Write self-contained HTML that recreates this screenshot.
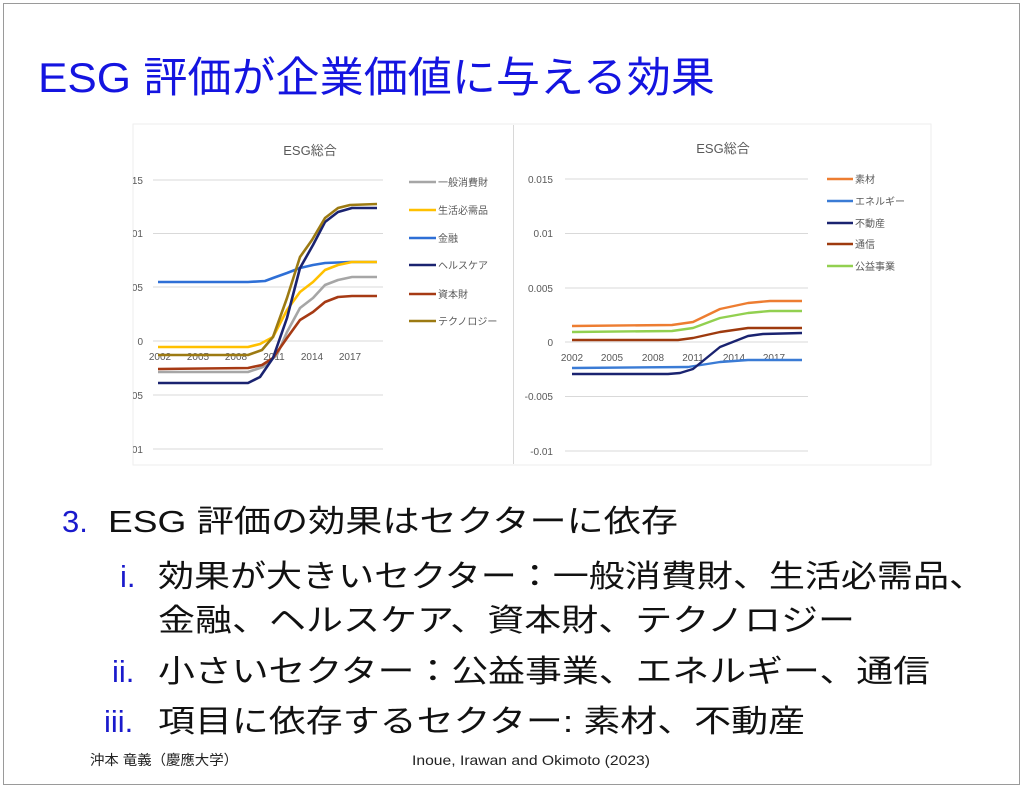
<!DOCTYPE html>
<html><head><meta charset="utf-8"><style>
html,body{margin:0;padding:0;background:#fff;}
svg{display:block;font-family:"Liberation Sans","Noto Sans CJK JP",sans-serif;}
</style></head><body>
<svg width="1024" height="789" viewBox="0 0 1024 789" xmlns="http://www.w3.org/2000/svg">
<defs><clipPath id="lc"><rect x="133" y="120" width="400" height="350"/></clipPath></defs>
<rect x="0" y="0" width="1024" height="789" fill="#fff"/>
<rect x="3.5" y="3.5" width="1016" height="781" fill="none" stroke="#9a9a9a" stroke-width="1"/>
<text x="38" y="92" font-size="42" fill="#1414e0" textLength="677" lengthAdjust="spacingAndGlyphs">ESG 評価が企業価値に与える効果</text>

<!-- left chart -->
<line x1="513.5" y1="125" x2="513.5" y2="464" stroke="#d8d8d8"/>
<rect x="133" y="124" width="798" height="341" fill="none" stroke="#eeeeee"/>
<text x="310" y="155" font-size="13" fill="#595959" text-anchor="middle">ESG総合</text>
<g stroke="#d9d9d9" stroke-width="1">
<line x1="153" y1="180" x2="383" y2="180"/><line x1="153" y1="233.5" x2="383" y2="233.5"/>
<line x1="153" y1="287" x2="383" y2="287"/><line x1="153" y1="341" x2="383" y2="341"/>
<line x1="153" y1="395" x2="383" y2="395"/><line x1="153" y1="449" x2="383" y2="449"/>
</g>
<g font-size="10" fill="#595959" text-anchor="end" clip-path="url(#lc)">
<text x="143" y="184">0.015</text><text x="143" y="237">0.01</text><text x="143" y="291">0.005</text>
<text x="143" y="345">0</text><text x="143" y="399">-0.005</text><text x="143" y="453">-0.01</text>
</g>
<g font-size="10" fill="#595959" text-anchor="middle">
<text x="160" y="360">2002</text><text x="198" y="360">2005</text><text x="236" y="360">2008</text>
<text x="274" y="360">2011</text><text x="312" y="360">2014</text><text x="350" y="360">2017</text>
</g>
<g fill="none" stroke-width="2.6" stroke-linejoin="round">
<polyline stroke="#a6a6a6" points="158,372 248,372 263,367 277,355 287,332 300,308 313,298 325,285 338,280 352,277 377,277"/>
<polyline stroke="#a63a14" points="158,369 248,368 262,365 273,358 287,338 300,320 313,312 325,302 338,297 352,296 377,296"/>
<polyline stroke="#2e6fd6" points="158,282 248,282 265,281 273,278 287,273 300,268 313,265 325,263 350,262 377,262"/>
<polyline stroke="#ffc000" points="158,347 248,347 260,344 273,337 287,310 300,292 313,282 325,270 338,265 352,262 377,262"/>
<polyline stroke="#1a2370" points="158,383 248,383 260,377 273,358 287,318 300,268 313,245 325,222 338,212 352,208 377,208"/>
<polyline stroke="#9c7a12" points="158,355 248,355 262,350 273,337 287,298 300,257 312,240 325,218 338,208 350,205 377,204"/>
</g>
<g stroke-width="2.6">
<line x1="409" y1="182" x2="436" y2="182" stroke="#a6a6a6"/>
<line x1="409" y1="210" x2="436" y2="210" stroke="#ffc000"/>
<line x1="409" y1="238" x2="436" y2="238" stroke="#2e6fd6"/>
<line x1="409" y1="265" x2="436" y2="265" stroke="#1a2370"/>
<line x1="409" y1="294" x2="436" y2="294" stroke="#a63a14"/>
<line x1="409" y1="321" x2="436" y2="321" stroke="#9c7a12"/>
</g>
<g font-size="10" fill="#595959">
<text x="438" y="186">一般消費財</text><text x="438" y="214">生活必需品</text><text x="438" y="242">金融</text>
<text x="438" y="269">ヘルスケア</text><text x="438" y="298">資本財</text><text x="438" y="325">テクノロジー</text>
</g>

<!-- right chart -->
<text x="723" y="153" font-size="13" fill="#595959" text-anchor="middle">ESG総合</text>
<g stroke="#d9d9d9" stroke-width="1">
<line x1="565" y1="179" x2="808" y2="179"/><line x1="565" y1="233.5" x2="808" y2="233.5"/>
<line x1="565" y1="288" x2="808" y2="288"/><line x1="565" y1="342" x2="808" y2="342"/>
<line x1="565" y1="396.5" x2="808" y2="396.5"/><line x1="565" y1="451" x2="808" y2="451"/>
</g>
<g font-size="10" fill="#595959" text-anchor="end">
<text x="553" y="183">0.015</text><text x="553" y="237">0.01</text><text x="553" y="292">0.005</text>
<text x="553" y="346">0</text><text x="553" y="400">-0.005</text><text x="553" y="455">-0.01</text>
</g>
<g font-size="10" fill="#595959" text-anchor="middle">
<text x="572" y="361">2002</text><text x="612" y="361">2005</text><text x="653" y="361">2008</text>
<text x="693" y="361">2011</text><text x="734" y="361">2014</text><text x="774" y="361">2017</text>
</g>
<g fill="none" stroke-width="2.4" stroke-linejoin="round">
<polyline stroke="#ed7d31" points="572,326 672,325 693,322 720,309 748,303 770,301 802,301"/>
<polyline stroke="#92d050" points="572,332 672,331 693,328 720,318 748,313 770,311 802,311"/>
<polyline stroke="#9e3a0e" points="572,340 678,340 693,338 720,332 748,328 802,328"/>
<polyline stroke="#3a7bd5" points="572,368 688,367 720,362 748,360 802,360"/>
<polyline stroke="#1a2370" points="572,374 668,374 680,373 693,369 720,347 748,336 763,334 802,333"/>
</g>
<g stroke-width="2.4">
<line x1="827" y1="179" x2="853" y2="179" stroke="#ed7d31"/>
<line x1="827" y1="201" x2="853" y2="201" stroke="#3a7bd5"/>
<line x1="827" y1="223" x2="853" y2="223" stroke="#1a2370"/>
<line x1="827" y1="244" x2="853" y2="244" stroke="#9e3a0e"/>
<line x1="827" y1="266" x2="853" y2="266" stroke="#92d050"/>
</g>
<g font-size="10" fill="#595959">
<text x="855" y="183">素材</text><text x="855" y="205">エネルギー</text><text x="855" y="227">不動産</text>
<text x="855" y="248">通信</text><text x="855" y="270">公益事業</text>
</g>

<!-- bullets -->
<g font-size="31" fill="#111">
<text x="62" y="532" fill="#1a1acc">3.</text>
<text x="108" y="532" textLength="570" lengthAdjust="spacingAndGlyphs">ESG 評価の効果はセクターに依存</text>
<text x="120" y="587" fill="#1a1acc">i.</text>
<text x="158" y="587" textLength="827" lengthAdjust="spacingAndGlyphs">効果が大きいセクター：一般消費財、生活必需品、</text>
<text x="158" y="631" textLength="697" lengthAdjust="spacingAndGlyphs">金融、ヘルスケア、資本財、テクノロジー</text>
<text x="112" y="682" fill="#1a1acc">ii.</text>
<text x="158" y="682" textLength="772" lengthAdjust="spacingAndGlyphs">小さいセクター：公益事業、エネルギー、通信</text>
<text x="104" y="732" fill="#1a1acc">iii.</text>
<text x="158" y="732" textLength="647" lengthAdjust="spacingAndGlyphs">項目に依存するセクター: 素材、不動産</text>
</g>
<text x="90" y="765" font-size="14" fill="#222" textLength="148" lengthAdjust="spacingAndGlyphs">沖本 竜義（慶應大学）</text>
<text x="412" y="765" font-size="14" fill="#222" textLength="238" lengthAdjust="spacingAndGlyphs">Inoue, Irawan and Okimoto (2023)</text>
</svg>
</body></html>
